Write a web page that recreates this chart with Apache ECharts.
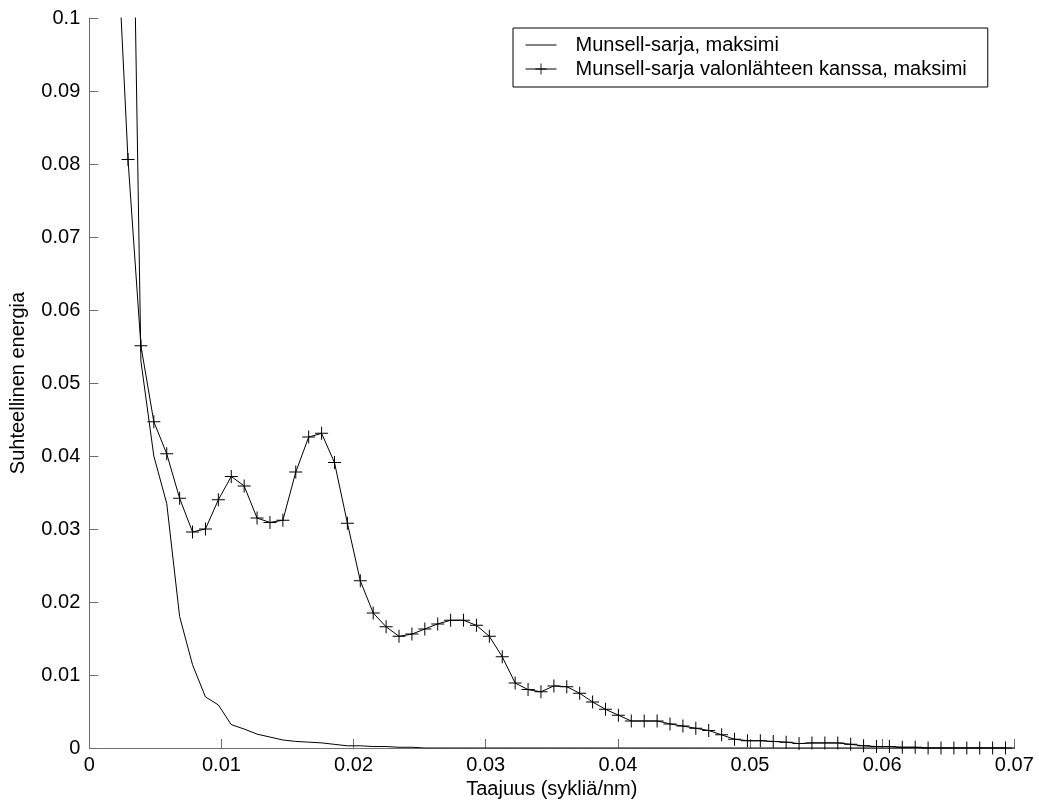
<!DOCTYPE html>
<html>
<head>
<meta charset="utf-8">
<title>Munsell-sarjan spektrin taajuussisältö</title>
<script src="https://cdn.jsdelivr.net/npm/echarts@6/dist/echarts.min.js"></script>
<style>
  html, body { margin: 0; padding: 0; background: #fff; }
  #chart { width: 1039px; height: 805px; }
</style>
</head>
<body>
<div id="chart"></div>
<script>
// Frequency bins of the 1024-point transform (cycles/nm per bin)
const FREQ_STEP = 1 / 1024;

// Munsell-sarja, maksimi — bins 3..72
const MAX_FIRST_BIN = 3;
const munsellMax = [
  0.163, 0.053, 0.040, 0.0335, 0.018, 0.0114, 0.0070, 0.0059, 0.0032, 0.0026,
  0.0019, 0.0015, 0.0011, 0.0009, 0.0008, 0.0007, 0.0005, 0.0003, 0.0003, 0.0002,
  0.0002, 0.0001, 0.0001, 0, 0, 0, 0, 0, 0, 0,
  0, 0, 0, 0, 0, 0, 0, 0, 0, 0,
  0, 0, 0, 0, 0, 0, 0, 0, 0, 0,
  0, 0, 0, 0, 0, 0, 0, 0, 0, 0,
  0, 0, 0, 0, 0, 0, 0, 0, 0, 0
];

// Munsell-sarja valonlähteen kanssa, maksimi — bins 2..71
const LIGHT_FIRST_BIN = 2;
const munsellLightMax = [
  0.117, 0.0806, 0.0551, 0.0447, 0.0403, 0.0342, 0.0296, 0.0300, 0.0340, 0.0372,
  0.0359, 0.0315, 0.0309, 0.0312, 0.0378, 0.0426, 0.0431, 0.0391, 0.0308, 0.0229,
  0.0185, 0.0166, 0.0153, 0.0156, 0.0163, 0.0170, 0.0175, 0.0175, 0.0168, 0.0153,
  0.0125, 0.0089, 0.0080, 0.0077, 0.0085, 0.0084, 0.0075, 0.0063, 0.0053, 0.0045,
  0.0037, 0.0037, 0.0037, 0.0033, 0.0030, 0.0027, 0.0024, 0.0018, 0.0012, 0.0010,
  0.0010, 0.0009, 0.0008, 0.0006, 0.0007, 0.0007, 0.0007, 0.0005, 0.0003, 0.0002,
  0.0002, 0.0001, 0.0001, 0, 0, 0, 0, 0, 0, 0
];

const seriesNames = [
  'Munsell-sarja, maksimi',
  'Munsell-sarja valonlähteen kanssa, maksimi'
];
const xAxisTitle = 'Taajuus (sykliä/nm)';
const yAxisTitle = 'Suhteellinen energia';

function toPairs(values, firstBin) {
  return values.map((v, i) => [(firstBin + i) * FREQ_STEP, v]);
}

const FONT = "'Liberation Sans', Arial, Helvetica, sans-serif";
const AXIS_GREY = '#6e6e6e';
const CROSS = 'path://M0,6H13V7H0Z M6,0H7V13H6Z';

function tickText(v) {
  return v === 0 ? '0' : String(Number(v.toFixed(3)));
}

const chart = echarts.init(document.getElementById('chart'), null, { renderer: 'canvas' });

chart.setOption({
  animation: false,
  backgroundColor: '#ffffff',
  textStyle: { fontFamily: FONT, color: '#000' },
  grid: {
    left: 89.3, right: 24.7, top: 18, bottom: 57,
    outerBoundsMode: 'none'
  },
  legend: {
    left: 513, top: 28,
    orient: 'vertical',
    backgroundColor: '#fff',
    borderColor: '#000',
    borderWidth: 1,
    borderRadius: 0,
    padding: [7, 21, 8, 12],
    itemWidth: 31,
    itemHeight: 14,
    itemGap: 4,
    selectedMode: false,
    lineStyle: { width: 1, color: '#000' },
    textStyle: { fontFamily: FONT, fontSize: 20, color: '#000', lineHeight: 20, padding: [0, 0, 0, 14] },
    data: [
      { name: seriesNames[0], itemStyle: { opacity: 0 } },
      { name: seriesNames[1] }
    ]
  },
  xAxis: {
    type: 'value',
    min: 0, max: 0.07, interval: 0.01,
    name: xAxisTitle,
    nameLocation: 'middle',
    nameGap: 29,
    nameTextStyle: { fontFamily: FONT, fontSize: 20, color: '#000', verticalAlign: 'top' },
    axisLine: { show: true, onZero: false, lineStyle: { color: AXIS_GREY, width: 1 } },
    axisTick: { show: true, inside: true, length: 9, lineStyle: { color: AXIS_GREY } },
    axisLabel: { margin: 7, fontFamily: FONT, fontSize: 20, color: '#000', formatter: tickText },
    splitLine: { show: false }
  },
  yAxis: {
    type: 'value',
    min: 0, max: 0.1, interval: 0.01,
    name: yAxisTitle,
    nameLocation: 'middle',
    nameGap: 61,
    nameRotate: 90,
    nameTextStyle: { fontFamily: FONT, fontSize: 20, color: '#000' },
    axisLine: { show: true, lineStyle: { color: AXIS_GREY, width: 1 } },
    axisTick: { show: true, inside: true, length: 9, lineStyle: { color: AXIS_GREY } },
    axisLabel: { margin: 9, fontFamily: FONT, fontSize: 20, color: '#000', formatter: tickText },
    splitLine: { show: false }
  },
  series: [
    {
      name: seriesNames[0],
      type: 'line',
      data: toPairs(munsellMax, MAX_FIRST_BIN),
      symbol: 'none',
      clip: true,
      lineStyle: { color: '#000', width: 1 },
      itemStyle: { color: '#000' },
      emphasis: { disabled: true }
    },
    {
      name: seriesNames[1],
      type: 'line',
      data: toPairs(munsellLightMax, LIGHT_FIRST_BIN),
      symbol: CROSS,
      symbolSize: 13,
      showSymbol: true,
      clip: true,
      lineStyle: { color: '#000', width: 1 },
      itemStyle: { color: '#000' },
      emphasis: { disabled: true }
    }
  ]
});
</script>
</body>
</html>
